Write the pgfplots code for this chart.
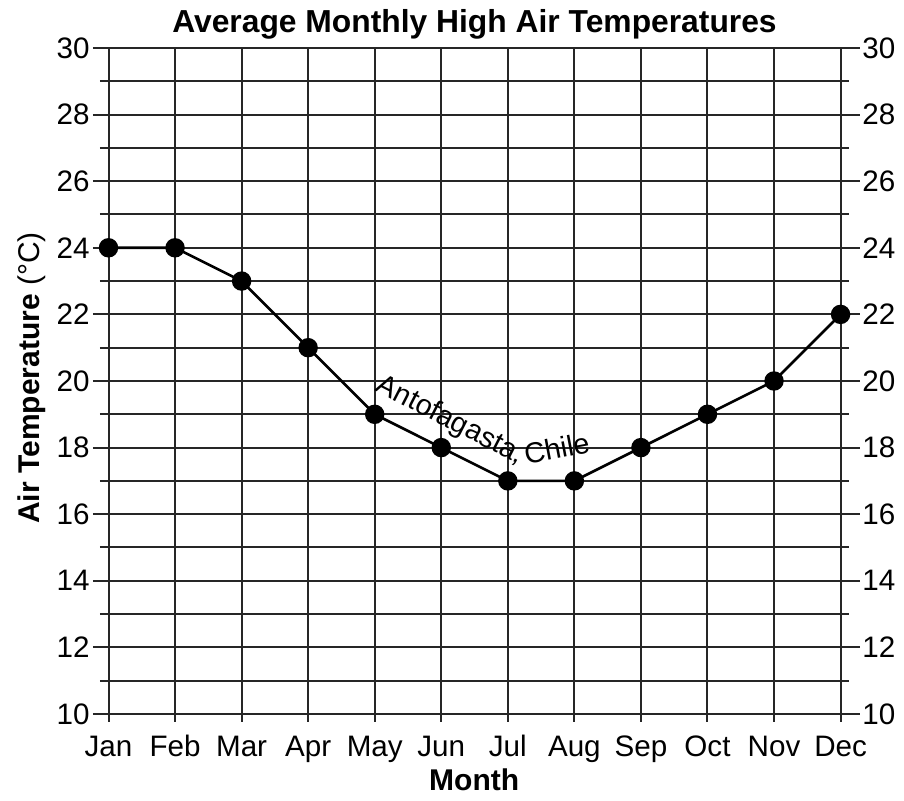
\documentclass[border=0pt]{standalone}
\usepackage{fontspec}
\setmainfont{Liberation Sans}
\usepackage{pgfplots}
\pgfplotsset{compat=1.18}
\usetikzlibrary{decorations.text}

\begin{document}
\begin{tikzpicture}
\begin{axis}[name=ax, scale only axis, width=383.5pt, height=337pt,
  xmin=-0.233, xmax=11.292, ymin=9.76, ymax=30, clip=false,
  xtick={0,...,11},
  xticklabels={Jan,Feb,Mar,Apr,May,Jun,Jul,Aug,Sep,Oct,Nov,Dec},
  ytick={10,12,...,30},
  axis line style={draw=none}, major tick length=0pt, tick style={draw=none},
  grid=major, grid style={black!85, line width=1pt},
  ticklabel style={font=\fontsize{14.8}{17}\selectfont},
  /pgf/number format/assume math mode=true,
  yticklabel style={inner sep=0pt, xshift=-1.5pt},
  xticklabel style={anchor=base, inner sep=0pt, yshift=-17.5pt},
  title={Average Monthly High Air Temperatures},
  title style={font=\bfseries\fontsize{15.9}{18}\selectfont, at={(axis description cs:0.4974,1.0237)}, anchor=base, inner sep=0pt, yshift=-6pt},
  xlabel={Month},
  xlabel style={font=\bfseries\fontsize{15}{18}\selectfont, at={(axis description cs:0.497,-0.1009)}, anchor=base, inner sep=0pt},
  ylabel={\textbf{Air Temperature} (°C)},
  ylabel style={font=\fontsize{15}{18}\selectfont, at={(axis description cs:-0.0691,0.5104)}, anchor=base, inner sep=0pt},
]
\pgfplotsinvokeforeach{11,13,15,17,19,21,23,25,27,29}{
  \draw[black!85, line width=1pt] (axis cs:-0.128,#1) -- (axis cs:11.127,#1);
}
\addplot[black, line width=1.3pt, mark=*, mark size=4.2pt, mark options={solid}]
  coordinates {(0,24)(1,24)(2,23)(3,21)(4,19)(5,18)(6,17)(7,17)(8,18)(9,19)(10,20)(11,22)};
\path[decorate, decoration={text along path, text={|\fontsize{14.4}{16}\selectfont|Antofagasta{,} Chile}}]
  (axis cs:4.0,19.72) -- (axis cs:6.2,17.46) -- (axis cs:7.55,17.97);
\end{axis}
\begin{axis}[scale only axis, width=383.5pt, height=337pt,
  xmin=-0.233, xmax=11.292, ymin=9.76, ymax=30,
  ytick={10,12,...,30}, yticklabel pos=right, xtick=\empty,
  axis line style={draw=none}, tick style={draw=none}, major tick length=0pt,
  ticklabel style={font=\fontsize{14.8}{17}\selectfont},
  /pgf/number format/assume math mode=true,
  yticklabel style={inner sep=0pt, xshift=1pt},
]
\end{axis}
\pgfresetboundingbox
\path ([xshift=-46.5pt,yshift=-39.5pt]ax.south west) rectangle ([xshift=22pt,yshift=24pt]ax.north east);
\end{tikzpicture}
\end{document}
